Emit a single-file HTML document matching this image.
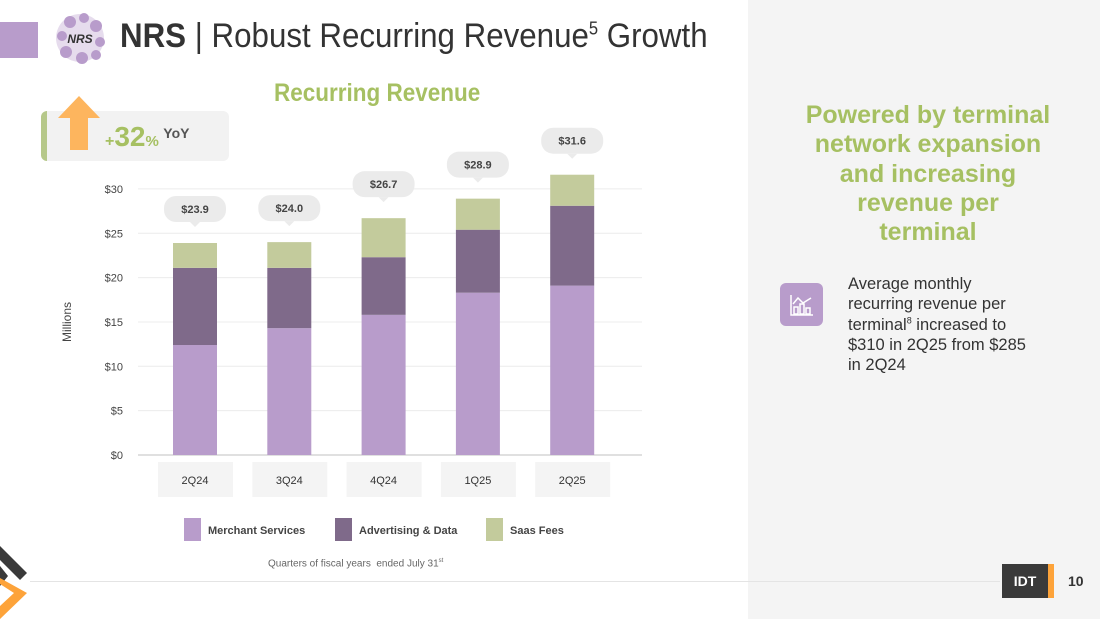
<!DOCTYPE html>
<html><head><meta charset="utf-8"><style>
body{margin:0;width:1100px;height:619px;position:relative;overflow:hidden;background:#fff;font-family:"Liberation Sans",sans-serif}
.abs{position:absolute}
</style></head><body>
<div class="abs" style="left:748px;top:0;width:352px;height:619px;background:#f4f4f4"></div>
<div class="abs" style="left:0;top:22px;width:38px;height:36px;background:#b89ccb"></div>
<svg class="abs" style="left:52px;top:10px" width="56" height="58">
<g fill="#b89ccb"><circle cx="28" cy="28" r="24" opacity="0.35"/><circle cx="18" cy="12" r="6"/><circle cx="32" cy="8" r="5"/><circle cx="44" cy="16" r="6"/><circle cx="10" cy="26" r="5"/><circle cx="48" cy="32" r="5"/><circle cx="14" cy="42" r="6"/><circle cx="30" cy="48" r="6"/><circle cx="44" cy="45" r="5"/></g>
<text x="28" y="33" font-size="12" font-style="italic" font-weight="bold" text-anchor="middle" fill="#333" font-family="Liberation Sans">NRS</text></svg>
<div class="abs" style="left:120px;top:17px;font-size:34px;color:#333;white-space:nowrap;transform:scaleX(0.92);transform-origin:left top"><b>NRS</b> | Robust Recurring Revenue<sup style="font-size:18px">5</sup> Growth</div>
<div class="abs" style="left:274px;top:79px;font-size:25px;font-weight:bold;color:#a6c062;transform:scaleX(0.9);transform-origin:left top">Recurring Revenue</div>
<div class="abs" style="left:41px;top:111px;width:188px;height:50px;background:#f2f2f2;border-radius:6px;border-left:6px solid #b6c88a;box-sizing:border-box"></div>
<svg class="abs" style="left:56px;top:96px" width="46" height="56"><polygon points="23,0 44,22 32,22 32,54 14,54 14,22 2,22" fill="#fdb55e"/></svg>
<div class="abs" style="left:105px;top:121px;color:#a6c062;font-weight:bold;white-space:nowrap"><span style="font-size:16px">+</span><span style="font-size:28px">32</span><span style="font-size:15px">%</span> <span style="font-size:14px;color:#555;vertical-align:8px">YoY</span></div>
<svg class="abs" style="left:0;top:0" width="748" height="619" id="chart"></svg>
<div class="abs" style="left:268px;top:558px;font-size:10px;color:#666">Quarters of fiscal years &nbsp;ended July 31<sup style="font-size:6px">st</sup></div>
<div class="abs" style="left:30px;top:581px;width:970px;height:1px;background:#e4e4e4"></div>
<svg class="abs" style="left:0;top:540px" width="40" height="79">
<polygon points="0,6 27,33 20,40 0,20" fill="#3a3a3a"/><polygon points="0,26 8,36 0,46" fill="#3a3a3a"/>
<polygon points="0,38 27,53 0,79 0,66 14,53 0,44" fill="#fda33a"/></svg>
<div class="abs" style="left:1002px;top:564px;width:46px;height:34px;background:#3a3a3a;color:#fff;font-weight:bold;font-size:14px;line-height:34px;text-align:center;border-right:6px solid #fda33a">IDT</div>
<div class="abs" style="left:1068px;top:573px;font-size:14px;color:#333;font-weight:bold">10</div>
<div class="abs" style="left:768px;top:101px;width:320px;text-align:center;font-size:25px;line-height:29.3px;font-weight:bold;color:#a6c062;white-space:nowrap">Powered by terminal<br>network expansion<br>and increasing<br>revenue per<br>terminal</div>
<div class="abs" style="left:780px;top:283px;width:43px;height:43px;background:#b89ccb;border-radius:6px">
<svg width="43" height="43"><g stroke="#fff" fill="none" stroke-width="1.5"><polyline points="11,12 11,32 33,32"/><rect x="14" y="24" width="4" height="7"/><rect x="20" y="21" width="4" height="10"/><rect x="26" y="25" width="4" height="6"/><polyline points="13,21 18,15 23,20 31,15"/></g></svg></div>
<div class="abs" style="left:848px;top:274px;width:240px;font-size:16.5px;line-height:20.3px;color:#333;white-space:nowrap">Average monthly<br>recurring revenue per<br>terminal<sup style="font-size:9px;line-height:0">8</sup> increased to<br>$310 in 2Q25 from $285<br>in 2Q24</div>
<script>
const categories=["2Q24","3Q24","4Q24","1Q25","2Q25"];
const merchant=[12.4,14.3,15.8,18.3,19.1];
const advertising=[8.7,6.8,6.5,7.1,9.0];
const saas=[2.8,2.9,4.4,3.5,3.5];
const totalLabels=["$23.9","$24.0","$26.7","$28.9","$31.6"];
const yTicks=[0,5,10,15,20,25,30];
const NS="http://www.w3.org/2000/svg";
const svg=document.getElementById('chart');
const y=v=>455-v*8.87;
const x=i=>195+i*94.3;
function mk(t,a,p){const e=document.createElementNS(NS,t);for(const k in a)e.setAttribute(k,a[k]);(p||svg).appendChild(e);return e;}
yTicks.forEach(t=>{
 const l=mk('line',{x1:138,x2:642,y1:y(t),y2:y(t),stroke:t?'#ececec':'#e0e0e0','stroke-width':t?1:2});
 
 
 const tx=mk('text',{x:123,y:y(t)+4,'text-anchor':'end','font-size':11,fill:'#444','font-family':'Liberation Sans'});
 tx.textContent='$'+t;
 
 
});
const yt=mk('text',{x:0,y:0,transform:'translate(71,322) rotate(-90)','text-anchor':'middle','font-size':12,fill:'#444','font-family':'Liberation Sans'});
yt.textContent='Millions';


const series=[[merchant,'#b89ccb','merchant'],[advertising,'#7f6a8a','advertising'],[saas,'#c3cb9c','saas']];
categories.forEach((c,i)=>{
 let base=0;
 series.forEach(([arr,col,nm])=>{
  const v=arr[i];
  const r=mk('rect',{x:x(i)-22,y:y(base+v),width:44,height:y(base)-y(base+v),fill:col});
  
  
  base+=v;
 });
 const by=y(base)-34;
 const b=mk('rect',{x:x(i)-31,y:by-13,width:62,height:26,rx:12,fill:'#ebebeb'});
 
 
 mk('polygon',{points:`${x(i)-5},${by+13} ${x(i)+5},${by+13} ${x(i)},${by+18}`,fill:'#ebebeb'});
 const t=mk('text',{x:x(i),y:by+4,'text-anchor':'middle','font-size':11,'font-weight':'bold',fill:'#444','font-family':'Liberation Sans'});
 t.textContent=totalLabels[i];
 
 
 const cb=mk('rect',{x:x(i)-37,y:462,width:75,height:35,fill:'#f4f4f4'});
 
 
 const ct=mk('text',{x:x(i),y:484,'text-anchor':'middle','font-size':11,fill:'#333','font-family':'Liberation Sans'});
 ct.textContent=c;
 
 
});
const legend=[["Merchant Services",'#b89ccb',184],["Advertising & Data",'#7f6a8a',335],["Saas Fees",'#c3cb9c',486]];
legend.forEach(([n,c,lx])=>{
 const s=mk('rect',{x:lx,y:518,width:17,height:23,fill:c});
 
 
 const t=mk('text',{x:lx+24,y:534,'font-size':11,'font-weight':'bold',fill:'#444','font-family':'Liberation Sans'});
 t.textContent=n;
 
 
});
</script>
</body></html>
